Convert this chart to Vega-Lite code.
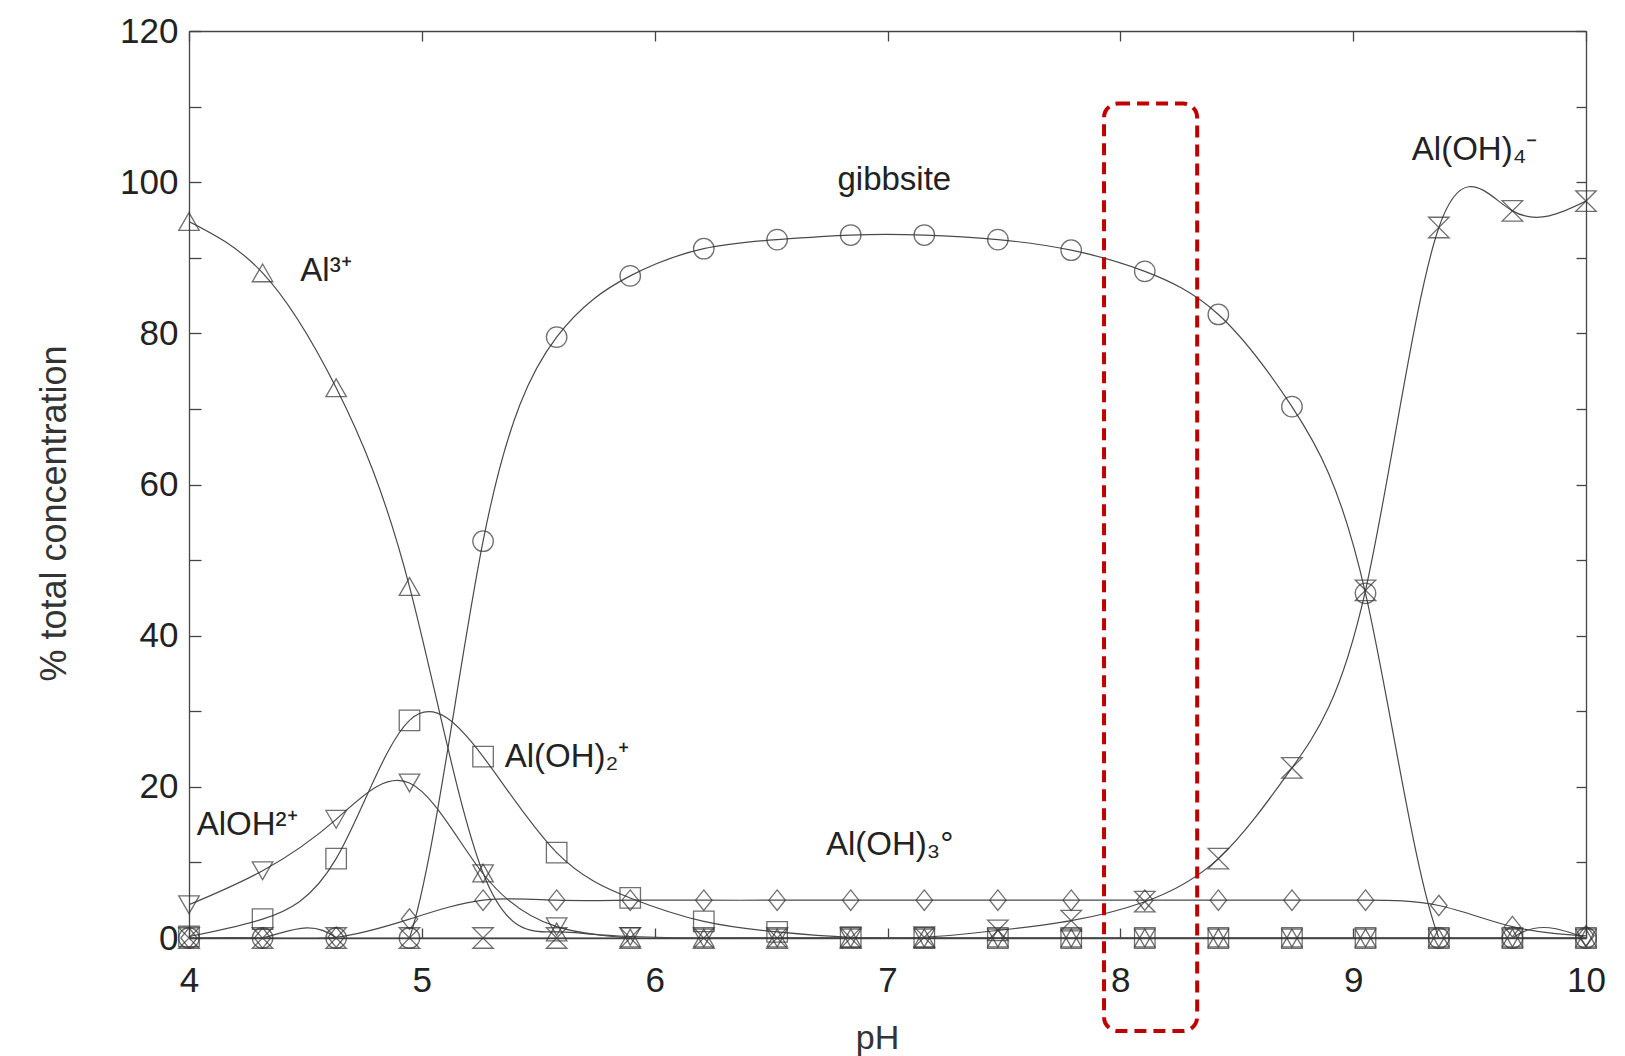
{
  "$schema": "https://vega.github.io/schema/vega-lite/v6.json",
  "width": 1397,
  "height": 907,
  "autosize": "none",
  "padding": {"left": 189, "top": 31, "right": 39, "bottom": 118},
  "background": "white",
  "config": {
    "view": {"stroke": null},
    "font": "Liberation Sans",
    "axis": {
      "grid": false,
      "domainColor": "#444",
      "domainWidth": 1.3,
      "tickColor": "#444",
      "tickWidth": 1.3,
      "labelFont": "Liberation Sans",
      "labelFontSize": 35,
      "labelColor": "#222",
      "titleFont": "Liberation Sans",
      "titleFontWeight": "normal",
      "titleColor": "#333",
      "labelFlush": false,
      "labelOverlap": false
    }
  },
  "datasets": {
    "species": [
      {"pH": 4.000, "pct": 94.8, "species": "Al3+"},
      {"pH": 4.316, "pct": 88.0, "species": "Al3+"},
      {"pH": 4.632, "pct": 72.8, "species": "Al3+"},
      {"pH": 4.947, "pct": 46.5, "species": "Al3+"},
      {"pH": 5.263, "pct": 8.6, "species": "Al3+"},
      {"pH": 5.579, "pct": 0.8, "species": "Al3+"},
      {"pH": 5.895, "pct": 0, "species": "Al3+"},
      {"pH": 6.211, "pct": 0, "species": "Al3+"},
      {"pH": 6.526, "pct": 0, "species": "Al3+"},
      {"pH": 6.842, "pct": 0, "species": "Al3+"},
      {"pH": 7.158, "pct": 0, "species": "Al3+"},
      {"pH": 7.474, "pct": 0, "species": "Al3+"},
      {"pH": 7.789, "pct": 0, "species": "Al3+"},
      {"pH": 8.105, "pct": 0, "species": "Al3+"},
      {"pH": 8.421, "pct": 0, "species": "Al3+"},
      {"pH": 8.737, "pct": 0, "species": "Al3+"},
      {"pH": 9.053, "pct": 0, "species": "Al3+"},
      {"pH": 9.368, "pct": 0, "species": "Al3+"},
      {"pH": 9.684, "pct": 0, "species": "Al3+"},
      {"pH": 10.000, "pct": 0, "species": "Al3+"},

      {"pH": 4.000, "pct": 4.4, "species": "AlOH2+"},
      {"pH": 4.316, "pct": 8.9, "species": "AlOH2+"},
      {"pH": 4.632, "pct": 15.7, "species": "AlOH2+"},
      {"pH": 4.947, "pct": 20.5, "species": "AlOH2+"},
      {"pH": 5.263, "pct": 8.5, "species": "AlOH2+"},
      {"pH": 5.579, "pct": 1.5, "species": "AlOH2+"},
      {"pH": 5.895, "pct": 0.2, "species": "AlOH2+"},
      {"pH": 6.211, "pct": 0, "species": "AlOH2+"},
      {"pH": 6.526, "pct": 0, "species": "AlOH2+"},
      {"pH": 6.842, "pct": 0, "species": "AlOH2+"},
      {"pH": 7.158, "pct": 0, "species": "AlOH2+"},
      {"pH": 7.474, "pct": 0, "species": "AlOH2+"},
      {"pH": 7.789, "pct": 0, "species": "AlOH2+"},
      {"pH": 8.105, "pct": 0, "species": "AlOH2+"},
      {"pH": 8.421, "pct": 0, "species": "AlOH2+"},
      {"pH": 8.737, "pct": 0, "species": "AlOH2+"},
      {"pH": 9.053, "pct": 0, "species": "AlOH2+"},
      {"pH": 9.368, "pct": 0, "species": "AlOH2+"},
      {"pH": 9.684, "pct": 0, "species": "AlOH2+"},
      {"pH": 10.000, "pct": 0, "species": "AlOH2+"},

      {"pH": 4.000, "pct": 0.2, "species": "Al(OH)2+"},
      {"pH": 4.316, "pct": 2.5, "species": "Al(OH)2+"},
      {"pH": 4.632, "pct": 10.5, "species": "Al(OH)2+"},
      {"pH": 4.947, "pct": 28.8, "species": "Al(OH)2+"},
      {"pH": 5.263, "pct": 24.0, "species": "Al(OH)2+"},
      {"pH": 5.579, "pct": 11.3, "species": "Al(OH)2+"},
      {"pH": 5.895, "pct": 5.3, "species": "Al(OH)2+"},
      {"pH": 6.211, "pct": 2.2, "species": "Al(OH)2+"},
      {"pH": 6.526, "pct": 0.8, "species": "Al(OH)2+"},
      {"pH": 6.842, "pct": 0.1, "species": "Al(OH)2+"},
      {"pH": 7.158, "pct": 0, "species": "Al(OH)2+"},
      {"pH": 7.474, "pct": 0, "species": "Al(OH)2+"},
      {"pH": 7.789, "pct": 0, "species": "Al(OH)2+"},
      {"pH": 8.105, "pct": 0, "species": "Al(OH)2+"},
      {"pH": 8.421, "pct": 0, "species": "Al(OH)2+"},
      {"pH": 8.737, "pct": 0, "species": "Al(OH)2+"},
      {"pH": 9.053, "pct": 0, "species": "Al(OH)2+"},
      {"pH": 9.368, "pct": 0, "species": "Al(OH)2+"},
      {"pH": 9.684, "pct": 0, "species": "Al(OH)2+"},
      {"pH": 10.000, "pct": 0, "species": "Al(OH)2+"},

      {"pH": 4.000, "pct": 0, "species": "Al(OH)3"},
      {"pH": 4.316, "pct": 0, "species": "Al(OH)3"},
      {"pH": 4.632, "pct": 0.1, "species": "Al(OH)3"},
      {"pH": 4.947, "pct": 2.5, "species": "Al(OH)3"},
      {"pH": 5.263, "pct": 5.0, "species": "Al(OH)3"},
      {"pH": 5.579, "pct": 5.0, "species": "Al(OH)3"},
      {"pH": 5.895, "pct": 5.0, "species": "Al(OH)3"},
      {"pH": 6.211, "pct": 5.0, "species": "Al(OH)3"},
      {"pH": 6.526, "pct": 5.0, "species": "Al(OH)3"},
      {"pH": 6.842, "pct": 5.0, "species": "Al(OH)3"},
      {"pH": 7.158, "pct": 5.0, "species": "Al(OH)3"},
      {"pH": 7.474, "pct": 5.0, "species": "Al(OH)3"},
      {"pH": 7.789, "pct": 5.0, "species": "Al(OH)3"},
      {"pH": 8.105, "pct": 5.0, "species": "Al(OH)3"},
      {"pH": 8.421, "pct": 5.0, "species": "Al(OH)3"},
      {"pH": 8.737, "pct": 5.0, "species": "Al(OH)3"},
      {"pH": 9.053, "pct": 5.0, "species": "Al(OH)3"},
      {"pH": 9.368, "pct": 4.3, "species": "Al(OH)3"},
      {"pH": 9.684, "pct": 1.5, "species": "Al(OH)3"},
      {"pH": 10.000, "pct": 0.3, "species": "Al(OH)3"},

      {"pH": 4.000, "pct": 0, "species": "gibbsite"},
      {"pH": 4.316, "pct": 0, "species": "gibbsite"},
      {"pH": 4.632, "pct": 0, "species": "gibbsite"},
      {"pH": 4.947, "pct": 0, "species": "gibbsite"},
      {"pH": 5.263, "pct": 52.5, "species": "gibbsite"},
      {"pH": 5.579, "pct": 79.5, "species": "gibbsite"},
      {"pH": 5.895, "pct": 87.6, "species": "gibbsite"},
      {"pH": 6.211, "pct": 91.2, "species": "gibbsite"},
      {"pH": 6.526, "pct": 92.4, "species": "gibbsite"},
      {"pH": 6.842, "pct": 93.0, "species": "gibbsite"},
      {"pH": 7.158, "pct": 93.0, "species": "gibbsite"},
      {"pH": 7.474, "pct": 92.4, "species": "gibbsite"},
      {"pH": 7.789, "pct": 91.0, "species": "gibbsite"},
      {"pH": 8.105, "pct": 88.2, "species": "gibbsite"},
      {"pH": 8.421, "pct": 82.5, "species": "gibbsite"},
      {"pH": 8.737, "pct": 70.3, "species": "gibbsite"},
      {"pH": 9.053, "pct": 45.6, "species": "gibbsite"},
      {"pH": 9.368, "pct": 0, "species": "gibbsite"},
      {"pH": 9.684, "pct": 0, "species": "gibbsite"},
      {"pH": 10.000, "pct": 0, "species": "gibbsite"},

      {"pH": 4.000, "pct": 0, "species": "Al(OH)4-"},
      {"pH": 4.316, "pct": 0, "species": "Al(OH)4-"},
      {"pH": 4.632, "pct": 0, "species": "Al(OH)4-"},
      {"pH": 4.947, "pct": 0, "species": "Al(OH)4-"},
      {"pH": 5.263, "pct": 0, "species": "Al(OH)4-"},
      {"pH": 5.579, "pct": 0, "species": "Al(OH)4-"},
      {"pH": 5.895, "pct": 0, "species": "Al(OH)4-"},
      {"pH": 6.211, "pct": 0, "species": "Al(OH)4-"},
      {"pH": 6.526, "pct": 0, "species": "Al(OH)4-"},
      {"pH": 6.842, "pct": 0, "species": "Al(OH)4-"},
      {"pH": 7.158, "pct": 0.1, "species": "Al(OH)4-"},
      {"pH": 7.474, "pct": 1.0, "species": "Al(OH)4-"},
      {"pH": 7.789, "pct": 2.3, "species": "Al(OH)4-"},
      {"pH": 8.105, "pct": 4.8, "species": "Al(OH)4-"},
      {"pH": 8.421, "pct": 10.5, "species": "Al(OH)4-"},
      {"pH": 8.737, "pct": 22.5, "species": "Al(OH)4-"},
      {"pH": 9.053, "pct": 46.0, "species": "Al(OH)4-"},
      {"pH": 9.368, "pct": 94.0, "species": "Al(OH)4-"},
      {"pH": 9.684, "pct": 96.2, "species": "Al(OH)4-"},
      {"pH": 10.000, "pct": 97.5, "species": "Al(OH)4-"}
    ],
    "labels": [
      {"pH": 4.478, "pct": 88.2, "text": "Al³⁺"},
      {"pH": 4.033, "pct": 15.0, "text": "AlOH²⁺"},
      {"pH": 5.356, "pct": 23.9, "text": "Al(OH)₂⁺"},
      {"pH": 6.736, "pct": 12.3, "text": "Al(OH)₃°"},
      {"pH": 6.785, "pct": 100.3, "text": "gibbsite"},
      {"pH": 9.252, "pct": 104.2, "text": "Al(OH)₄⁻"}
    ],
    "highlight": [
      {"pH_from": 7.93, "pH_to": 8.33, "pct_top": 110.4, "pct_bottom": -12.3}
    ]
  },
  "layer": [
    {
      "data": {"name": "species"},
      "mark": {"type": "line", "interpolate": "natural", "clip": true, "color": "#4a4a4a", "strokeWidth": 1.2},
      "encoding": {
        "x": {
          "field": "pH", "type": "quantitative",
          "scale": {"domain": [4, 10], "nice": false, "zero": false},
          "axis": {
            "orient": "bottom",
            "values": [4, 5, 6, 7, 8, 9, 10],
            "tickSize": -10,
            "labelPadding": 35,
            "title": "pH",
            "titleFontSize": 34,
            "titleX": 688,
            "titleY": 100,
            "titleAlign": "center",
            "titleBaseline": "middle"
          }
        },
        "y": {
          "field": "pct", "type": "quantitative",
          "scale": {"domain": [0, 120], "nice": false, "zero": false},
          "axis": {
            "orient": "left",
            "values": [0, 10, 20, 30, 40, 50, 60, 70, 80, 90, 100, 110, 120],
            "labelExpr": "datum.value % 20 === 0 ? datum.label : ''",
            "tickSize": -12,
            "labelPadding": 23,
            "title": "% total concentration",
            "titleFontSize": 36,
            "titleAngle": -90,
            "titleX": -135,
            "titleY": 482,
            "titleAlign": "center",
            "titleBaseline": "middle"
          }
        },
        "detail": {"field": "species", "type": "nominal"}
      }
    },
    {
      "data": {"name": "species"},
      "mark": {"type": "point", "filled": false, "color": "#333", "strokeWidth": 1.3, "size": 420, "clip": false},
      "encoding": {
        "x": {"field": "pH", "type": "quantitative", "scale": {"domain": [4, 10], "nice": false, "zero": false}, "axis": null},
        "y": {"field": "pct", "type": "quantitative", "scale": {"domain": [0, 120], "nice": false, "zero": false}, "axis": null},
        "shape": {
          "field": "species", "type": "nominal",
          "scale": {
            "domain": ["Al3+", "AlOH2+", "Al(OH)2+", "Al(OH)3", "gibbsite", "Al(OH)4-"],
            "range": ["triangle-up", "triangle-down", "square", "M0,-1L0.8,0L0,1L-0.8,0Z", "circle", "M-1,-1L1,-1L-1,1L1,1Z"]
          },
          "legend": null
        }
      }
    },
    {
      "data": {"name": "labels"},
      "mark": {"type": "text", "align": "left", "baseline": "middle", "font": "Liberation Sans", "fontSize": 33, "color": "#222"},
      "encoding": {
        "x": {"field": "pH", "type": "quantitative", "scale": {"domain": [4, 10], "nice": false, "zero": false}, "axis": null},
        "y": {"field": "pct", "type": "quantitative", "scale": {"domain": [0, 120], "nice": false, "zero": false}, "axis": null},
        "text": {"field": "text"}
      }
    },
    {
      "data": {"name": "highlight"},
      "mark": {"type": "rect", "filled": false, "stroke": "#c00000", "strokeWidth": 4, "strokeDash": [12, 7], "cornerRadius": 14, "clip": false},
      "encoding": {
        "x": {
          "field": "pH_from", "type": "quantitative",
          "scale": {"domain": [4, 10], "nice": false, "zero": false},
          "axis": {"orient": "top", "values": [4, 5, 6, 7, 8, 9, 10], "labels": false, "tickSize": -10, "title": null}
        },
        "x2": {"field": "pH_to"},
        "y": {
          "field": "pct_top", "type": "quantitative",
          "scale": {"domain": [0, 120], "nice": false, "zero": false},
          "axis": {"orient": "right", "values": [0, 10, 20, 30, 40, 50, 60, 70, 80, 90, 100, 110, 120], "labels": false, "tickSize": -10, "title": null}
        },
        "y2": {"field": "pct_bottom"}
      }
    }
  ],
  "resolve": {"axis": {"x": "independent", "y": "independent"}}
}
